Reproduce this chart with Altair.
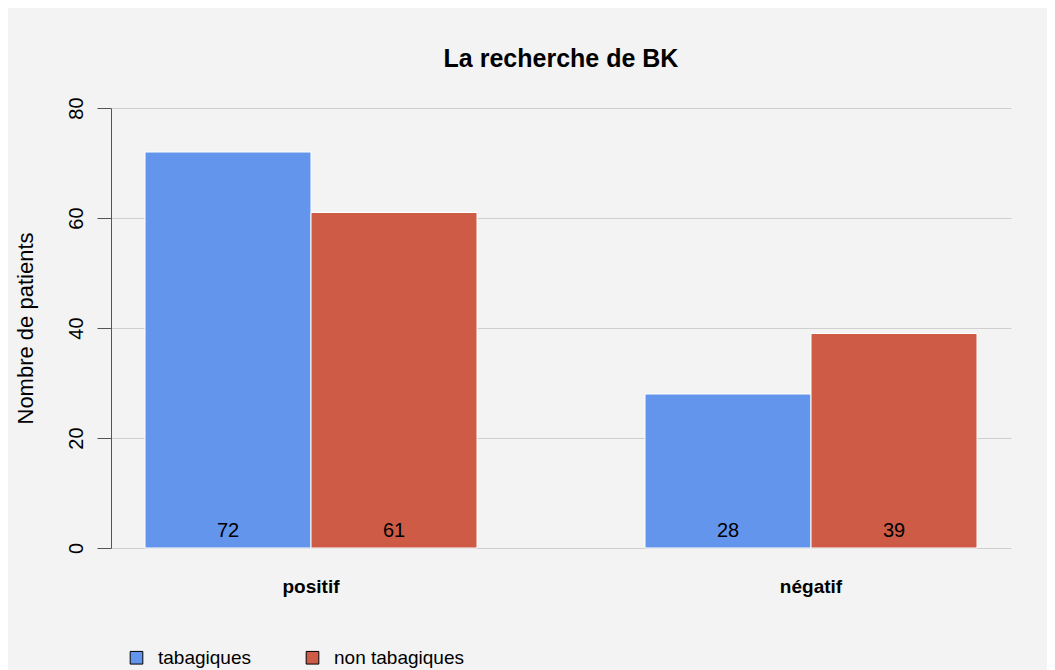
import altair as alt
import pandas as pd

categories = ["positif", "négatif"]
groups = ["tabagiques", "non tabagiques"]
tabagiques = [72, 28]
non_tabagiques = [61, 39]
colors = ["#6495ED", "#CD5B45"]
y_ticks = [0, 20, 40, 60, 80]

rows = []
for i, c in enumerate(categories):
    rows.append({"cat": c, "grp": groups[0], "val": tabagiques[i]})
    rows.append({"cat": c, "grp": groups[1], "val": non_tabagiques[i]})
df = pd.DataFrame(rows)

FONT = "Liberation Sans"

x_enc = alt.X(
    "cat:N",
    sort=categories,
    scale=alt.Scale(paddingInner=0.336, paddingOuter=0.068),
    axis=alt.Axis(
        title=None, labelAngle=0, ticks=False, domain=False,
        labelFontWeight="bold", labelFontSize=19, labelPadding=29,
        labelColor="#000000", labelFont=FONT,
    ),
)
xoff = alt.XOffset("grp:N", sort=groups, scale=alt.Scale(paddingInner=0, paddingOuter=0))
y_enc = alt.Y(
    "val:Q",
    scale=alt.Scale(domain=[0, 80], nice=False),
    axis=alt.Axis(
        values=y_ticks, title="Nombre de patients",
        labelAngle=270, labelAlign="center", labelBaseline="bottom",
        labelPadding=11, labelFontSize=20, labelColor="#000000", labelFont=FONT,
        tickSize=14, tickColor="#555555", domainColor="#555555",
        gridColor="#cfcfcf", grid=True,
        titleAngle=270, titleAlign="center", titleBaseline="alphabetic",
        titleX=-79, titleY=220, titleFontSize=22, titleFontWeight="normal",
        titleColor="#000000", titleFont=FONT,
    ),
)

bars = alt.Chart(df).mark_bar(stroke="white", strokeWidth=1).encode(
    x=x_enc,
    xOffset=xoff,
    y=y_enc,
    color=alt.Color(
        "grp:N", sort=groups,
        scale=alt.Scale(domain=groups, range=colors),
        legend=alt.Legend(
            title=None, orient="none", direction="horizontal",
            legendX=16, legendY=540, symbolType="square", symbolSize=160,
            symbolStrokeColor="#000000", symbolStrokeWidth=1, symbolOpacity=1,
            labelFontSize=19, labelFont=FONT, labelColor="#000000",
            labelOffset=12, columnPadding=52, padding=0,
        ),
    ),
)

labels = alt.Chart(df).mark_text(
    baseline="alphabetic", dy=-11, fontSize=20, font=FONT, color="#000000"
).encode(
    x=alt.X("cat:N", sort=categories),
    xOffset=alt.XOffset("grp:N", sort=groups),
    y=alt.datum(0),
    text=alt.Text("val:Q"),
)

chart = (
    alt.layer(bars, labels)
    .properties(
        width=900, height=440,
        title=alt.TitleParams(
            "La recherche de BK", fontSize=25, fontWeight="bold",
            font=FONT, color="#000000", anchor="middle", offset=25,
        ),
        autosize=alt.AutoSizeParams(type="none"),
        padding={"left": 103, "top": 100, "right": 36, "bottom": 130},
        background="#f3f3f3",
    )
    .configure_view(strokeWidth=0)
)

chart.save("out.html", embed_options={"renderer": "svg", "actions": False})
